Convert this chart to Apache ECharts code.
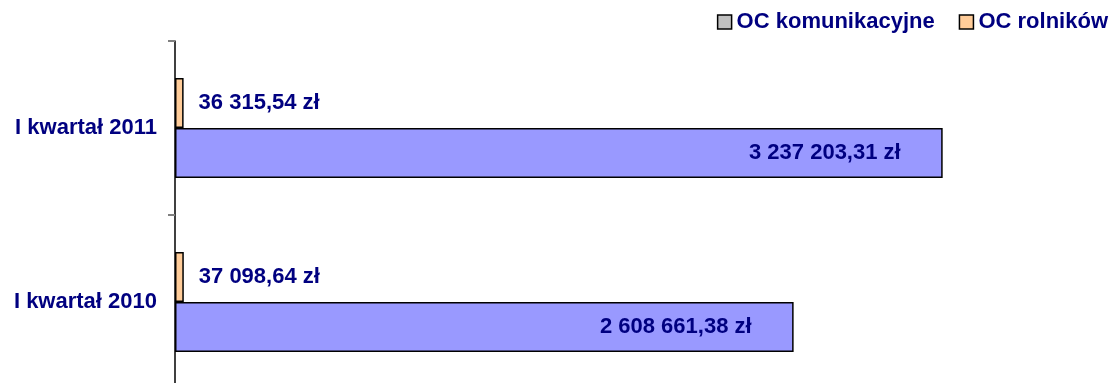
<!DOCTYPE html>
<html>
<head>
<meta charset="utf-8">
<script src="https://cdn.jsdelivr.net/npm/echarts@6/dist/echarts.min.js"></script>
<style>
  html, body { margin: 0; padding: 0; background: #fff; overflow: hidden; }
  #chart { width: 1114px; height: 395px; }
</style>
</head>
<body>
<div id="chart"></div>
<script>
var categories = ['I kwartał 2010', 'I kwartał 2011'];
var komunikacyjne = [2608661.38, 3237203.31];
var rolnikow = [37098.64, 36315.54];

function zl(v) {
    var parts = v.toFixed(2).split('.');
    var s = parts[0].replace(/\B(?=(\d{3})+(?!\d))/g, ' ');
    return s + ',' + parts[1] + ' zł';
}

var font = '"Liberation Sans", Arial, sans-serif';
var myChart = echarts.init(document.getElementById('chart'));
var option = {
    animation: false,
    legend: {
        top: 6,
        right: 1,
        itemWidth: 14,
        itemHeight: 14,
        itemGap: 24,
        textStyle: { color: '#000080', fontWeight: 'bold', fontSize: 22, fontFamily: font },
        data: [
            { name: 'OC komunikacyjne', icon: 'rect', itemStyle: { color: '#c0c0c0', borderColor: '#000', borderWidth: 1.5 } },
            { name: 'OC rolników', icon: 'rect', itemStyle: { color: '#ffcc99', borderColor: '#000', borderWidth: 1.5 } }
        ]
    },
    grid: { left: 175, top: 41, width: 830, height: 348 },
    xAxis: {
        type: 'value',
        min: 0,
        max: 3500000,
        show: false
    },
    yAxis: {
        type: 'category',
        data: categories,
        axisLine: { show: true, lineStyle: { color: '#000', width: 1.5 } },
        axisTick: { show: true, length: 7, lineStyle: { color: '#808080', width: 2 } },
        axisLabel: { color: '#000080', fontWeight: 'bold', fontSize: 22, fontFamily: font, margin: 18 }
    },
    series: [
        {
            name: 'OC rolników',
            type: 'bar',
            data: rolnikow,
            barWidth: 50,
            barGap: '0%',
            itemStyle: { color: '#ffcc99', borderColor: '#000', borderWidth: 1.5 },
            label: {
                show: true, position: 'right', distance: 15,
                formatter: function (p) { return zl(p.value); },
                color: '#000080', fontWeight: 'bold', fontSize: 22, fontFamily: font
            }
        },
        {
            name: 'OC komunikacyjne',
            type: 'bar',
            data: komunikacyjne,
            barWidth: 50,
            barGap: '0%',
            itemStyle: { color: '#9999ff', borderColor: '#000', borderWidth: 1.5 },
            label: {
                show: true, position: 'insideRight', distance: 42,
                formatter: function (p) { return zl(p.value); },
                color: '#000080', fontWeight: 'bold', fontSize: 22, fontFamily: font
            }
        }
    ]
};
myChart.setOption(option);
</script>
</body>
</html>
